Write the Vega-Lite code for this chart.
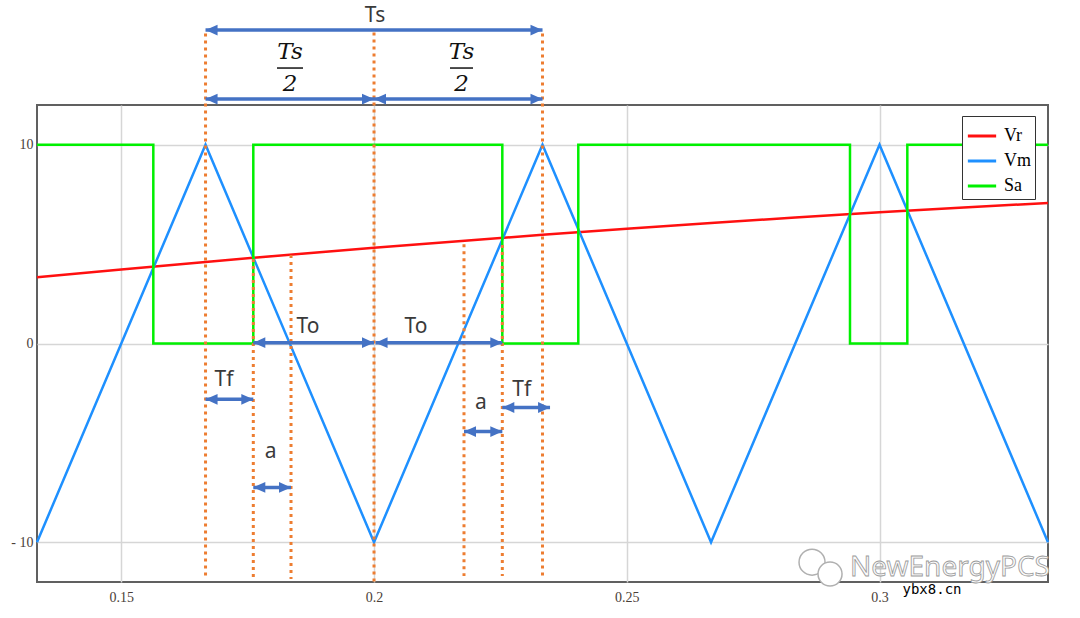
{
  "$schema": "https://vega.github.io/schema/vega-lite/v6.json",
  "autosize": {"type": "none"},
  "width": 1011,
  "height": 477,
  "padding": {"left": 37, "top": 105, "right": 32, "bottom": 36},
  "background": "white",
  "config": {
    "view": {"stroke": "#606060", "strokeWidth": 2},
    "axis": {"grid": true, "gridColor": "#d6d6d6", "gridWidth": 1.5, "ticks": false, "domain": false, "labelFont": "Liberation Serif", "labelFontSize": 14, "labelColor": "#4a4038", "title": null}
  },
  "datasets": {
    "series": [
      {"s": "Vr", "i": 0, "t": 0.13333, "v": 3.33},
      {"s": "Vr", "i": 1, "t": 0.15, "v": 3.72},
      {"s": "Vr", "i": 2, "t": 0.16667, "v": 4.1},
      {"s": "Vr", "i": 3, "t": 0.18333, "v": 4.47},
      {"s": "Vr", "i": 4, "t": 0.2, "v": 4.82},
      {"s": "Vr", "i": 5, "t": 0.21667, "v": 5.15},
      {"s": "Vr", "i": 6, "t": 0.23333, "v": 5.47},
      {"s": "Vr", "i": 7, "t": 0.25, "v": 5.77},
      {"s": "Vr", "i": 8, "t": 0.26667, "v": 6.06},
      {"s": "Vr", "i": 9, "t": 0.28333, "v": 6.34},
      {"s": "Vr", "i": 10, "t": 0.3, "v": 6.6},
      {"s": "Vr", "i": 11, "t": 0.31667, "v": 6.84},
      {"s": "Vr", "i": 12, "t": 0.33333, "v": 7.07},
      {"s": "Vm", "i": 0, "t": 0.13333, "v": -10},
      {"s": "Vm", "i": 1, "t": 0.16667, "v": 10},
      {"s": "Vm", "i": 2, "t": 0.2, "v": -10},
      {"s": "Vm", "i": 3, "t": 0.23333, "v": 10},
      {"s": "Vm", "i": 4, "t": 0.26667, "v": -10},
      {"s": "Vm", "i": 5, "t": 0.3, "v": 10},
      {"s": "Vm", "i": 6, "t": 0.33333, "v": -10},
      {"s": "Sa", "i": 0, "t": 0.13333, "v": 10},
      {"s": "Sa", "i": 1, "t": 0.15634, "v": 10},
      {"s": "Sa", "i": 2, "t": 0.15634, "v": 0},
      {"s": "Sa", "i": 3, "t": 0.17612, "v": 0},
      {"s": "Sa", "i": 4, "t": 0.17612, "v": 10},
      {"s": "Sa", "i": 5, "t": 0.22538, "v": 10},
      {"s": "Sa", "i": 6, "t": 0.22538, "v": 0},
      {"s": "Sa", "i": 7, "t": 0.24041, "v": 0},
      {"s": "Sa", "i": 8, "t": 0.24041, "v": 10},
      {"s": "Sa", "i": 9, "t": 0.29416, "v": 10},
      {"s": "Sa", "i": 10, "t": 0.29416, "v": 0},
      {"s": "Sa", "i": 11, "t": 0.3055, "v": 0},
      {"s": "Sa", "i": 12, "t": 0.3055, "v": 10},
      {"s": "Sa", "i": 13, "t": 0.33333, "v": 10}
    ],
    "dotted": [
      {"t": 0.16667, "y1": 15.6, "y2": -11.85},
      {"t": 0.17612, "y1": 4.25, "y2": -11.85},
      {"t": 0.18358, "y1": 4.45, "y2": -11.85},
      {"t": 0.2, "y1": 15.65, "y2": -12},
      {"t": 0.2178, "y1": 5.0, "y2": -11.7},
      {"t": 0.22538, "y1": 4.95, "y2": -11.7},
      {"t": 0.23333, "y1": 15.6, "y2": -11.8}
    ],
    "arrows": [
      {"t1": 0.16667, "t2": 0.23333, "y": 15.77},
      {"t1": 0.16667, "t2": 0.2, "y": 12.3},
      {"t1": 0.2, "t2": 0.23333, "y": 12.3},
      {"t1": 0.17612, "t2": 0.2, "y": 0.04},
      {"t1": 0.2003, "t2": 0.22538, "y": 0.04},
      {"t1": 0.16667, "t2": 0.17612, "y": -2.81},
      {"t1": 0.17612, "t2": 0.18358, "y": -7.24},
      {"t1": 0.2178, "t2": 0.22538, "y": -4.43},
      {"t1": 0.22538, "t2": 0.23482, "y": -3.22}
    ],
    "labels": [
      {"t": 0.2002, "y": 16.5, "text": "Ts"},
      {"t": 0.18694, "y": 0.83, "text": "To"},
      {"t": 0.20831, "y": 0.83, "text": "To"},
      {"t": 0.17033, "y": -1.84, "text": "Tf"},
      {"t": 0.22922, "y": -2.34, "text": "Tf"},
      {"t": 0.17956, "y": -5.44, "text": "a"},
      {"t": 0.22116, "y": -2.99, "text": "a"}
    ],
    "fracs": [
      {"t": 0.18338, "y": 14.67, "text": "Ts"},
      {"t": 0.18338, "y": 13.06, "text": "2"},
      {"t": 0.21731, "y": 14.67, "text": "Ts"},
      {"t": 0.21731, "y": 13.06, "text": "2"}
    ],
    "bars": [
      {"t1": 0.18081, "t2": 0.18595, "y": 13.86},
      {"t1": 0.21503, "t2": 0.21958, "y": 13.86}
    ],
    "mark": [
      {"t": 0.31394, "y": -11.3, "text": "NewEnergyPCS"}
    ],
    "site": [
      {"t": 0.31038, "y": -12.42, "text": "ybx8.cn"}
    ],
    "bubbles": [
      {"t": 0.28665, "y": -11.0, "sz": 676},
      {"t": 0.29021, "y": -11.6, "sz": 576}
    ]
  },
  "layer": [
    {
      "data": {"name": "series"},
      "mark": {"type": "line", "strokeWidth": 2.5},
      "encoding": {
        "x": {"field": "t", "type": "quantitative", "title": null, "scale": {"domain": [0.13333, 0.33333], "nice": false, "zero": false}, "axis": {"values": [0.15, 0.2, 0.25, 0.3], "format": "~g", "labelPadding": 8}},
        "y": {"field": "v", "type": "quantitative", "title": null, "scale": {"domain": [-12, 12], "nice": false, "zero": false}, "axis": {"values": [-10, 0, 10], "labelPadding": 4, "labelExpr": "datum.value < 0 ? '- ' + abs(datum.value) : datum.label"}},
        "color": {"field": "s", "type": "nominal", "scale": {"domain": ["Vr", "Vm", "Sa"], "range": ["#ff1010", "#1e90ff", "#00f000"]},
          "legend": {"title": null, "orient": "none", "legendX": 925, "legendY": 11, "symbolType": "stroke", "symbolSize": 800, "symbolStrokeWidth": 3, "labelFont": "Liberation Serif", "labelFontSize": 18, "labelColor": "#000", "strokeColor": "#333", "fillColor": "white", "padding": 4, "rowPadding": -4, "labelOffset": 6}},
        "order": {"field": "i", "type": "quantitative"}
      }
    },
    {
      "data": {"name": "dotted"},
      "mark": {"type": "rule", "color": "#ed7d31", "strokeWidth": 3, "strokeDash": [3, 4]},
      "encoding": {
        "x": {"field": "t", "type": "quantitative", "title": null},
        "y": {"field": "y1", "type": "quantitative", "title": null},
        "y2": {"field": "y2"}
      }
    },
    {
      "data": {"name": "arrows"},
      "layer": [
        {
          "mark": {"type": "rule", "color": "#4472c4", "strokeWidth": 3.5},
          "encoding": {
            "x": {"field": "t1", "type": "quantitative", "title": null},
            "x2": {"field": "t2"},
            "y": {"field": "y", "type": "quantitative", "title": null}
          }
        },
        {
          "mark": {"type": "point", "shape": "M0,0 L2,-0.9 L2,0.9 Z", "filled": true, "color": "#4472c4", "opacity": 1, "size": 144},
          "encoding": {
            "x": {"field": "t1", "type": "quantitative", "title": null},
            "y": {"field": "y", "type": "quantitative", "title": null}
          }
        },
        {
          "mark": {"type": "point", "shape": "M0,0 L-2,-0.9 L-2,0.9 Z", "filled": true, "color": "#4472c4", "opacity": 1, "size": 144},
          "encoding": {
            "x": {"field": "t2", "type": "quantitative", "title": null},
            "y": {"field": "y", "type": "quantitative", "title": null}
          }
        }
      ]
    },
    {
      "data": {"name": "labels"},
      "mark": {"type": "text", "font": "Noto Sans", "fontSize": 21, "color": "#3a3a3a", "baseline": "middle", "align": "center"},
      "encoding": {
        "x": {"field": "t", "type": "quantitative", "title": null},
        "y": {"field": "y", "type": "quantitative", "title": null},
        "text": {"field": "text"}
      }
    },
    {
      "data": {"name": "fracs"},
      "mark": {"type": "text", "font": "DejaVu Serif", "fontStyle": "italic", "fontSize": 23, "color": "#111", "baseline": "middle", "align": "center"},
      "encoding": {
        "x": {"field": "t", "type": "quantitative", "title": null},
        "y": {"field": "y", "type": "quantitative", "title": null},
        "text": {"field": "text"}
      }
    },
    {
      "data": {"name": "bars"},
      "mark": {"type": "rule", "color": "#111", "strokeWidth": 1.5},
      "encoding": {
        "x": {"field": "t1", "type": "quantitative", "title": null},
        "x2": {"field": "t2"},
        "y": {"field": "y", "type": "quantitative", "title": null}
      }
    },
    {
      "data": {"name": "bubbles"},
      "mark": {"type": "point", "shape": "circle", "filled": false, "stroke": "#b0b0b0", "strokeWidth": 1.5, "fill": "white", "fillOpacity": 1, "opacity": 1},
      "encoding": {
        "x": {"field": "t", "type": "quantitative", "title": null},
        "y": {"field": "y", "type": "quantitative", "title": null},
        "size": {"field": "sz", "type": "quantitative", "scale": null, "legend": null}
      }
    },
    {
      "data": {"name": "mark"},
      "mark": {"type": "text", "font": "Noto Sans", "fontSize": 28, "fill": "#fafafa", "stroke": "#999", "strokeWidth": 0.8, "baseline": "middle", "align": "center"},
      "encoding": {
        "x": {"field": "t", "type": "quantitative", "title": null},
        "y": {"field": "y", "type": "quantitative", "title": null},
        "text": {"field": "text"}
      }
    },
    {
      "data": {"name": "site"},
      "mark": {"type": "text", "font": "DejaVu Sans Mono", "fontSize": 14, "color": "#000", "baseline": "middle", "align": "center"},
      "encoding": {
        "x": {"field": "t", "type": "quantitative", "title": null},
        "y": {"field": "y", "type": "quantitative", "title": null},
        "text": {"field": "text"}
      }
    }
  ]
}
